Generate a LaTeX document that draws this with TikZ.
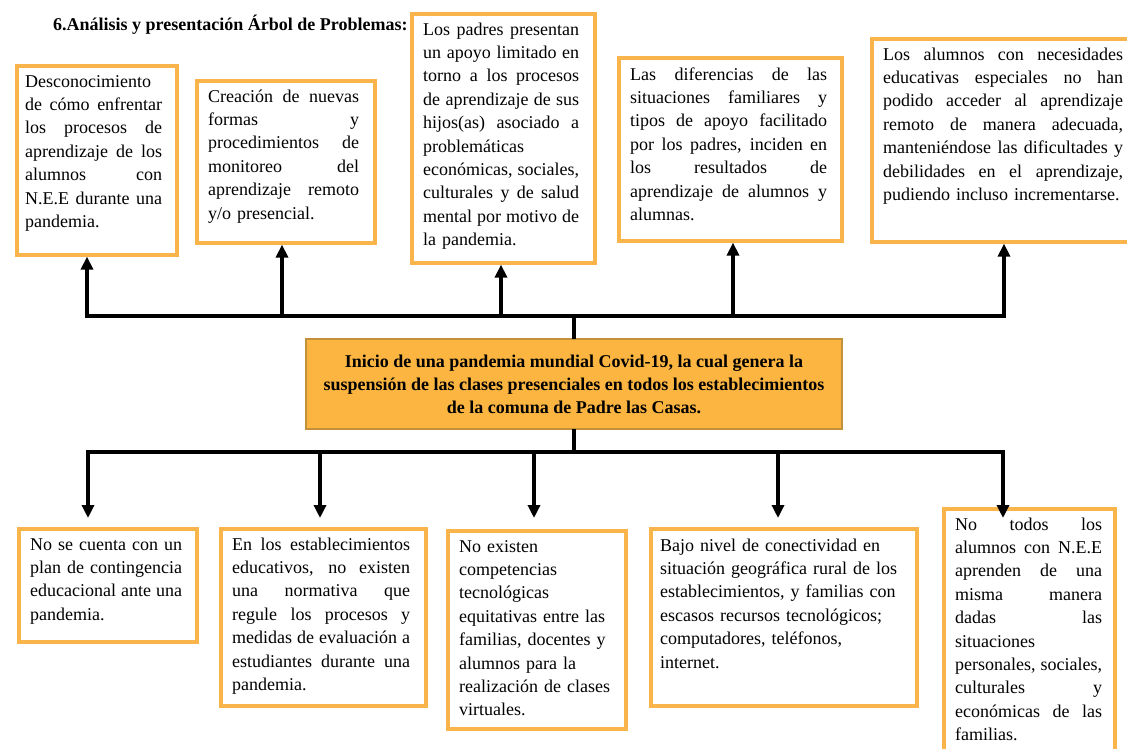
\documentclass[tikz,border=0pt]{standalone}
\usepackage{fontspec}
\setmainfont{Liberation Serif}
\usetikzlibrary{arrows.meta,positioning,calc}
\definecolor{TreeOrange}{HTML}{F9B44B}
\definecolor{RootFill}{HTML}{FBB540}
\definecolor{RootEdge}{HTML}{C3913A}
\newcommand{\jl}[1]{{\spaceskip=.25em plus 1fil\xspaceskip=.25em plus 1fil\makebox[\hsize][s]{#1}}}

\begin{document}
\begin{tikzpicture}[x=1pt,y=-1pt,>={Triangle[length=13pt,width=12pt]},
  box/.style={draw=TreeOrange,line width=3.6pt,anchor=north west,inner sep=0pt},
  txt/.style={anchor=north west,inner sep=0pt,font=\fontsize{18}{23.4}\selectfont},
  root/.style={draw=RootEdge,fill=RootFill,line width=2.6pt,minimum width=536pt,minimum height=90pt,
    align=center,inner sep=0pt,font=\bfseries\fontsize{18}{23}\selectfont},
  bar/.style={line width=3.4pt,line cap=rect},
  arr/.style={line width=3.4pt,->}]
  \useasboundingbox (0,0) rectangle (1127,749);
  \node[anchor=base west,inner sep=0pt,font=\bfseries\fontsize{18}{22}\selectfont] (title) at (53,31)
    {6.Análisis y presentación Árbol de Problemas:};
  % frames of the effects (top) and causes (bottom)
  \foreach \n/\x/\y/\w/\h in {t1/15/64/160/189,t2/195/79/178/162,t3/410/12/183/249,
      t4/617/56/223/183,t5/870/37/270/203,b1/17/527/178/113,b2/219/527/205/177,
      b3/446/529/178/198,b4/649/527/266/177,b5/942/507/171/260}
    \node[box,minimum width=\w pt,minimum height=\h pt] (\n) at (\x,\y) {};
  % effects
  \node[txt,text width=137pt] (t1txt) at (25,70.6) {\strut Desconocimiento\\
    \jl{de cómo enfrentar}\\ \jl{los procesos de}\\ \jl{aprendizaje de los}\\
    \jl{alumnos con}\\ \jl{N.E.E durante una}\\ pandemia.};
  \node[txt,text width=151pt] (t2txt) at (208,85.6) {\strut\jl{Creación de nuevas}\\
    \jl{formas y}\\ \jl{procedimientos de}\\ \jl{monitoreo del}\\
    \jl{aprendizaje remoto}\\ y/o presencial.};
  \node[txt,text width=156pt] (t3txt) at (423,18.6) {\strut\jl{Los padres presentan}\\
    \jl{un apoyo limitado en}\\ \jl{torno a los procesos}\\ \jl{de aprendizaje de sus}\\
    \jl{hijos(as) asociado a}\\ problemáticas\\ \jl{económicas, sociales,}\\
    \jl{culturales y de salud}\\ \jl{mental por motivo de}\\ la pandemia.};
  \node[txt,text width=197pt] (t4txt) at (630,63.6) {\strut\jl{Las diferencias de las}\\
    \jl{situaciones familiares y}\\ \jl{tipos de apoyo facilitado}\\
    \jl{por los padres, inciden en}\\ \jl{los resultados de}\\
    \jl{aprendizaje de alumnos y}\\ alumnas.};
  \node[txt,text width=240pt] (t5txt) at (883,43.6) {\strut\jl{Los alumnos con necesidades}\\
    \jl{educativas especiales no han}\\ \jl{podido acceder al aprendizaje}\\
    \jl{remoto de manera adecuada,}\\ \jl{manteniéndose las dificultades y}\\
    \jl{debilidades en el aprendizaje,}\\ pudiendo incluso incrementarse.};
  % causes
  \node[txt,text width=152pt] (b1txt) at (30,533.6) {\strut\jl{No se cuenta con un}\\
    \jl{plan de contingencia}\\ \jl{educacional ante una}\\ pandemia.};
  \node[txt,text width=178pt] (b2txt) at (232,533.6) {\strut\jl{En los establecimientos}\\
    \jl{educativos, no existen}\\ \jl{una normativa que}\\ \jl{regule los procesos y}\\
    \jl{medidas de evaluación a}\\ \jl{estudiantes durante una}\\ pandemia.};
  \node[txt,text width=160pt] (b3txt) at (459,535.6) {\strut No existen\\ competencias\\
    tecnológicas\\ equitativas entre las\\ familias, docentes y\\ alumnos para la\\
    realización de clases\\ virtuales.};
  \node[txt,text width=250pt] (b4txt) at (660,534.6) {\strut Bajo nivel de conectividad en\\
    situación geográfica rural de los\\ establecimientos, y familias con\\
    escasos recursos tecnológicos;\\ computadores, teléfonos,\\ internet.};
  \node[txt,text width=147pt] (b5txt) at (955,513.6) {\strut\jl{No todos los}\\
    \jl{alumnos con N.E.E}\\ \jl{aprenden de una}\\ \jl{misma manera}\\ \jl{dadas las}\\
    situaciones\\ \jl{personales, sociales,}\\ \jl{culturales y}\\
    \jl{económicas de las}\\ familias.};
  % central problem
  \node[root] (root) at (574,384) {Inicio de una pandemia mundial Covid-19, la cual genera la\\
    suspensión de las clases presenciales en todos los establecimientos\\
    de la comuna de Padre las Casas.};
  % connectors
  \foreach \x [count=\i] in {87,282,501,733,1004}
    \coordinate (up\i) at (\x,316);
  \foreach \x [count=\i] in {88,320,534,778,1003} {
    \coordinate (dn\i) at (\x,452);
    \coordinate (tip\i) at (\x,518);
  }
  \draw[bar] (root.north) -- (root.north |- up1);
  \draw[bar] (up1) -- (up5);
  \foreach \i/\n in {1/t1,2/t2,3/t3,4/t4,5/t5}
    \draw[arr] (up\i) -- (up\i |- \n.south);
  \draw[bar] (root.south) -- (root.south |- dn1);
  \draw[bar] (dn1) -- (dn5);
  \foreach \i in {1,...,5}
    \draw[arr] (dn\i) -- (tip\i);
\end{tikzpicture}
\end{document}
